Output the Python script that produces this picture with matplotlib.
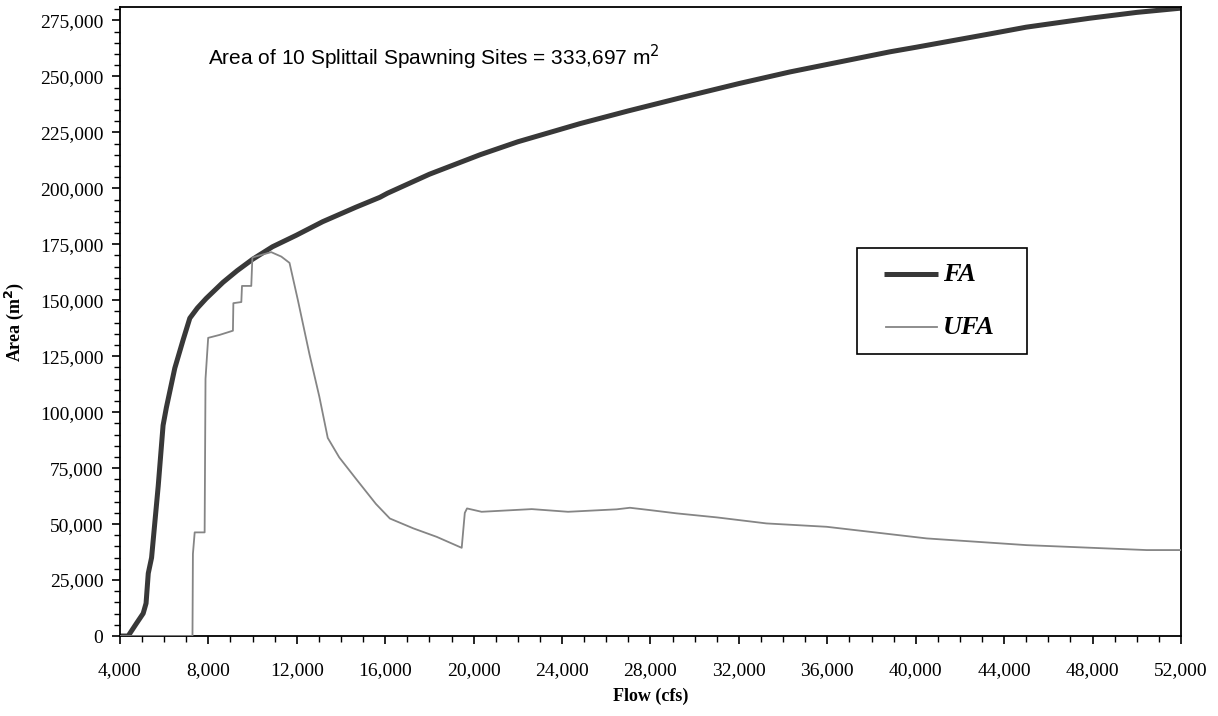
import numpy as np
import matplotlib
matplotlib.use("Agg")
import matplotlib.pyplot as plt
import matplotlib.ticker as mticker
from matplotlib.patches import Rectangle
from matplotlib.lines import Line2D

# ── data ─────────────────────────────────────────────────────────────────────
fa_flow = [4000, 4370, 4750, 5050, 5180, 5280, 5430, 5730, 5950, 6100, 6480,
           6860, 7160, 7500, 7900, 8660, 9300, 10000, 10900, 11970, 13170, 14680,
           15760, 16100, 18000, 20290, 22000, 24810, 27000, 29340, 32000, 34310,
           38840, 40000, 43360, 45000, 47880, 50000, 52000]
fa_area = [0, 0, 5700, 10100, 14600, 28000, 35000, 67000, 94100, 102100, 119650,
           132400, 142000, 146500, 150800, 158000, 163200, 168300, 173900, 179000,
           185100, 191600, 196000, 197800, 206300, 215000, 220800, 228900, 234600,
           240400, 246800, 252000, 261000, 263000, 269000, 272000, 276000, 278600,
           280500]

ufa_flow = [4000, 7280, 7300, 7380, 7830, 7870, 7990, 8500, 9110, 9130, 9490,
            9520, 9940, 9990, 10300, 10840, 11300, 11670, 12050, 12570, 13020,
            13400, 13920, 14680, 15580, 16210, 17270, 18330, 19460, 19600, 19700,
            20360, 22630, 24270, 26470, 27070, 27980, 29180, 31000, 33250, 35970,
            40500, 45020, 50450, 52000]
ufa_area = [0, 0, 36700, 46300, 46300, 114900, 133200, 134500, 136400, 148700, 149200,
            156400, 156400, 169100, 170000, 171500, 169500, 166700, 150000, 126000,
            106900, 88500, 79800, 70200, 59000, 52500, 48100, 44300, 39400, 55000,
            57000, 55500, 56700, 55500, 56600, 57300, 56250, 54800, 53000, 50300,
            48800, 43600, 40600, 38400, 38400]

SERIF = ["Liberation Serif", "DejaVu Serif"]
SANS = ["Liberation Sans", "DejaVu Sans"]
FA_COL, UFA_COL = "#383838", "#858585"

fig = plt.figure(figsize=(12.18, 7.16), dpi=100)
ax = fig.add_axes([0.0985, 0.1117, 0.8711, 0.8785])

ax.plot(fa_flow, fa_area, color=FA_COL, lw=3.6, solid_capstyle="butt", zorder=2)
ax.plot(ufa_flow, ufa_area, color=UFA_COL, lw=1.3, zorder=3)

ax.set_xlim(4000, 52000)
ax.set_ylim(0, 281000)
ax.xaxis.set_major_locator(mticker.MultipleLocator(4000))
ax.xaxis.set_minor_locator(mticker.MultipleLocator(1000))
ax.yaxis.set_major_locator(mticker.MultipleLocator(25000))
ax.yaxis.set_minor_locator(mticker.MultipleLocator(5000))
fmt = mticker.FuncFormatter(lambda v, p: f"{int(v):,}")
ax.xaxis.set_major_formatter(fmt)
ax.yaxis.set_major_formatter(fmt)

ax.tick_params(which="major", direction="out", length=6, width=1.2, labelsize=14)
ax.tick_params(which="minor", direction="out", length=4, width=1.0)
ax.tick_params(axis="x", which="major", pad=13)
ax.tick_params(axis="y", which="major", pad=6)
for lab in ax.get_xticklabels() + ax.get_yticklabels():
    lab.set_fontfamily(SERIF)
for sp in ax.spines.values():
    sp.set_linewidth(1.3)
    sp.set_color("black")

ax.set_xlabel("Flow (cfs)", fontsize=13, fontweight="bold", family=SERIF, labelpad=6)
ax.set_ylabel("Area (m$^\\mathbf{2}$)", fontsize=13, fontweight="bold", family=SERIF,
              labelpad=10)

ax.text(0.0828, 0.908, "Area of 10 Splittail Spawning Sites = 333,697 m$^2$",
        transform=ax.transAxes, fontsize=15, family=SANS, ha="left", va="baseline")

# legend box drawn by hand to match the wide frame of the original
ax.add_patch(Rectangle((0.6946, 0.4483), 0.1603, 0.1686, transform=ax.transAxes,
                       facecolor="white", edgecolor="black", lw=1.2, zorder=5))
legprop = dict(family=SERIF, fontsize=19, fontweight="bold", style="italic",
               transform=ax.transAxes, va="center", ha="left", zorder=6)
ax.add_line(Line2D([0.7201, 0.7710], [0.5755, 0.5755], transform=ax.transAxes,
                   color=FA_COL, lw=3.6, solid_capstyle="butt", zorder=6))
ax.text(0.7757, 0.5740, "FA", **legprop)
ax.add_line(Line2D([0.7220, 0.7700], [0.4913, 0.4913], transform=ax.transAxes,
                   color=UFA_COL, lw=1.3, zorder=6))
ax.text(0.7757, 0.4900, "UFA", **legprop)

fig.savefig("out.png", dpi=100, facecolor="white")
